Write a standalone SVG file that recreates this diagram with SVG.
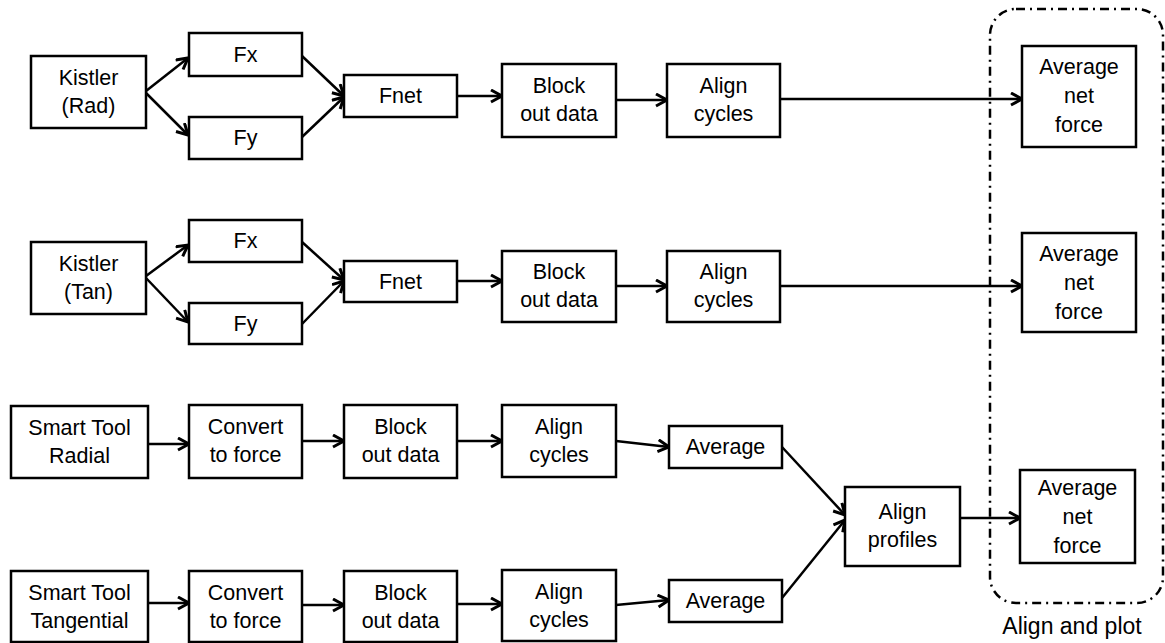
<svg xmlns="http://www.w3.org/2000/svg" width="1165" height="643" viewBox="0 0 1165 643">
<defs>
<style>
.box{fill:#fff;stroke:#000;stroke-width:2.5}
.t{font-family:"Liberation Sans",Arial,sans-serif;font-size:21.5px;fill:#000;text-anchor:middle}
.c{fill:none;stroke:#000;stroke-width:2.5;marker-end:url(#ah)}
.grp{fill:none;stroke:#000;stroke-width:2.5;stroke-dasharray:9 5 2 5}
</style>
<marker id="ah" markerUnits="userSpaceOnUse" markerWidth="16" markerHeight="16" refX="12" refY="7" orient="auto">
<path d="M1,1 L12,7 L1,13" fill="none" stroke="#000" stroke-width="3"/>
</marker>
</defs>
<rect width="1165" height="643" fill="#fff"/>

<g id="group-align-plot">
<rect class="grp" x="990" y="9" width="173" height="594" rx="26"/>
<text class="t" x="1072" y="634" style="font-size:23px">Align and plot</text>
</g>

<g id="connectors">
<!-- row 1 -->
<line class="c" x1="146" y1="91" x2="188" y2="58"/>
<line class="c" x1="146" y1="93" x2="188" y2="135"/>
<line class="c" x1="302" y1="56" x2="344" y2="96"/>
<line class="c" x1="302" y1="137" x2="344" y2="97"/>
<line class="c" x1="457" y1="96" x2="502" y2="96"/>
<line class="c" x1="616" y1="100" x2="667" y2="100"/>
<line class="c" x1="780" y1="99" x2="1022" y2="99"/>
<!-- row 2 -->
<line class="c" x1="146" y1="276" x2="188" y2="245"/>
<line class="c" x1="146" y1="278" x2="188" y2="322"/>
<line class="c" x1="302" y1="242" x2="344" y2="280"/>
<line class="c" x1="302" y1="324" x2="344" y2="281"/>
<line class="c" x1="457" y1="281" x2="502" y2="281"/>
<line class="c" x1="616" y1="286" x2="667" y2="286"/>
<line class="c" x1="780" y1="286" x2="1022" y2="286"/>
<!-- row 3 -->
<line class="c" x1="148" y1="444" x2="189" y2="444"/>
<line class="c" x1="302" y1="441" x2="344" y2="441"/>
<line class="c" x1="457" y1="441" x2="502" y2="441"/>
<line class="c" x1="616" y1="441" x2="669" y2="447"/>
<line class="c" x1="782" y1="447" x2="845" y2="515"/>
<!-- row 4 -->
<line class="c" x1="148" y1="603" x2="189" y2="603"/>
<line class="c" x1="302" y1="605" x2="344" y2="605"/>
<line class="c" x1="457" y1="604" x2="502" y2="604"/>
<line class="c" x1="616" y1="605" x2="669" y2="600"/>
<line class="c" x1="782" y1="598" x2="845" y2="520"/>
<!-- profiles to average -->
<line class="c" x1="960" y1="518" x2="1020" y2="518"/>
</g>

<!-- row 1 nodes -->
<g id="kistler-rad"><rect class="box" x="31" y="56" width="115" height="72"/><text class="t" x="88.5" y="85">Kistler</text><text class="t" x="88.5" y="113">(Rad)</text></g>
<g id="fx-1"><rect class="box" x="189" y="33" width="113" height="43"/><text class="t" x="245.5" y="62">Fx</text></g>
<g id="fy-1"><rect class="box" x="189" y="117" width="113" height="42"/><text class="t" x="245.5" y="145">Fy</text></g>
<g id="fnet-1"><rect class="box" x="344" y="75" width="113" height="42"/><text class="t" x="400.5" y="103">Fnet</text></g>
<g id="block-1"><rect class="box" x="502" y="64" width="114" height="73"/><text class="t" x="559" y="93">Block</text><text class="t" x="559" y="121">out data</text></g>
<g id="align-1"><rect class="box" x="667" y="64" width="113" height="73"/><text class="t" x="723.5" y="93">Align</text><text class="t" x="723.5" y="121">cycles</text></g>
<g id="anf-1"><rect class="box" x="1022" y="46" width="114" height="101"/><text class="t" x="1079" y="74">Average</text><text class="t" x="1079" y="103">net</text><text class="t" x="1079" y="132">force</text></g>

<!-- row 2 nodes -->
<g id="kistler-tan"><rect class="box" x="31" y="242" width="115" height="72"/><text class="t" x="88.5" y="271">Kistler</text><text class="t" x="88.5" y="299">(Tan)</text></g>
<g id="fx-2"><rect class="box" x="189" y="220" width="113" height="42"/><text class="t" x="245.5" y="248">Fx</text></g>
<g id="fy-2"><rect class="box" x="189" y="303" width="113" height="41"/><text class="t" x="245.5" y="331">Fy</text></g>
<g id="fnet-2"><rect class="box" x="344" y="261" width="113" height="41"/><text class="t" x="400.5" y="289">Fnet</text></g>
<g id="block-2"><rect class="box" x="502" y="251" width="114" height="71"/><text class="t" x="559" y="279">Block</text><text class="t" x="559" y="307">out data</text></g>
<g id="align-2"><rect class="box" x="667" y="251" width="113" height="71"/><text class="t" x="723.5" y="279">Align</text><text class="t" x="723.5" y="307">cycles</text></g>
<g id="anf-2"><rect class="box" x="1022" y="233" width="114" height="99"/><text class="t" x="1079" y="261">Average</text><text class="t" x="1079" y="290">net</text><text class="t" x="1079" y="319">force</text></g>

<!-- row 3 nodes -->
<g id="st-radial"><rect class="box" x="11" y="406" width="137" height="72"/><text class="t" x="79.5" y="435">Smart Tool</text><text class="t" x="79.5" y="463">Radial</text></g>
<g id="convert-1"><rect class="box" x="189" y="405" width="113" height="73"/><text class="t" x="245.5" y="434">Convert</text><text class="t" x="245.5" y="462">to force</text></g>
<g id="block-3"><rect class="box" x="344" y="405" width="113" height="73"/><text class="t" x="400.5" y="434">Block</text><text class="t" x="400.5" y="462">out data</text></g>
<g id="align-3"><rect class="box" x="502" y="405" width="114" height="72"/><text class="t" x="559" y="434">Align</text><text class="t" x="559" y="462">cycles</text></g>
<g id="average-1"><rect class="box" x="669" y="426" width="113" height="42"/><text class="t" x="725.5" y="454">Average</text></g>

<!-- row 4 nodes -->
<g id="st-tangential"><rect class="box" x="11" y="571" width="137" height="71"/><text class="t" x="79.5" y="600">Smart Tool</text><text class="t" x="79.5" y="628">Tangential</text></g>
<g id="convert-2"><rect class="box" x="189" y="571" width="113" height="71"/><text class="t" x="245.5" y="600">Convert</text><text class="t" x="245.5" y="628">to force</text></g>
<g id="block-4"><rect class="box" x="344" y="571" width="113" height="71"/><text class="t" x="400.5" y="600">Block</text><text class="t" x="400.5" y="628">out data</text></g>
<g id="align-4"><rect class="box" x="502" y="570" width="114" height="71"/><text class="t" x="559" y="599">Align</text><text class="t" x="559" y="627">cycles</text></g>
<g id="average-2"><rect class="box" x="669" y="580" width="113" height="42"/><text class="t" x="725.5" y="608">Average</text></g>

<g id="align-profiles"><rect class="box" x="845" y="487" width="115" height="79"/><text class="t" x="902.5" y="519">Align</text><text class="t" x="902.5" y="547">profiles</text></g>
<g id="anf-3"><rect class="box" x="1020" y="470" width="115" height="93"/><text class="t" x="1077.5" y="495">Average</text><text class="t" x="1077.5" y="524">net</text><text class="t" x="1077.5" y="553">force</text></g>
</svg>
